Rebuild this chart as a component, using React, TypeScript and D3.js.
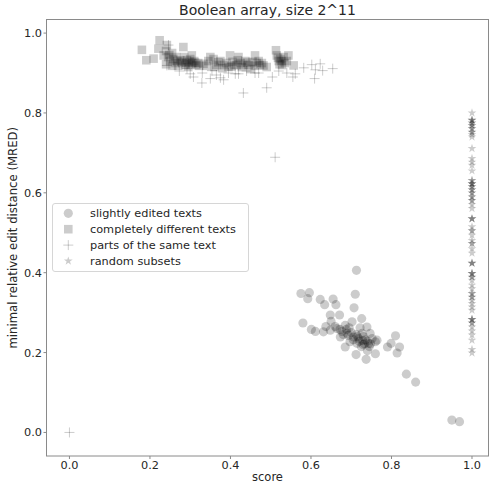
import React from "react";
import * as d3 from "d3";

const W = 489;
const H = 485;

const xTicks = [0, 0.2, 0.4, 0.6, 0.8, 1.0];
const yTicks = [0, 0.2, 0.4, 0.6, 0.8, 1.0];

const slightlyEdited: [number, number][] = [
  [0.713, 0.406], [0.575, 0.348], [0.596, 0.350], [0.592, 0.335], [0.623, 0.333], [0.634, 0.320],
  [0.655, 0.334], [0.662, 0.320], [0.710, 0.346], [0.707, 0.312], [0.580, 0.274], [0.648, 0.294],
  [0.671, 0.294], [0.726, 0.285], [0.601, 0.258], [0.611, 0.253], [0.631, 0.252], [0.648, 0.256],
  [0.664, 0.260], [0.677, 0.253], [0.685, 0.268], [0.702, 0.277], [0.739, 0.264], [0.693, 0.243],
  [0.706, 0.239], [0.718, 0.235], [0.727, 0.248], [0.747, 0.248], [0.764, 0.231], [0.760, 0.227],
  [0.729, 0.220], [0.743, 0.223], [0.685, 0.214], [0.673, 0.239], [0.697, 0.227], [0.714, 0.223],
  [0.712, 0.195], [0.737, 0.183], [0.760, 0.197], [0.810, 0.242], [0.799, 0.223], [0.790, 0.214],
  [0.820, 0.214], [0.814, 0.199], [0.837, 0.146], [0.860, 0.126], [0.950, 0.031], [0.969, 0.027],
  [0.720, 0.228], [0.735, 0.232], [0.752, 0.235], [0.725, 0.215], [0.700, 0.250], [0.688, 0.258],
  [0.660, 0.265], [0.715, 0.240], [0.745, 0.215], [0.730, 0.240], [0.680, 0.245], [0.740, 0.205],
  [0.695, 0.262], [0.722, 0.262], [0.650, 0.278], [0.637, 0.265], [0.733, 0.222], [0.740, 0.228],
  [0.705, 0.232], [0.690, 0.248], [0.672, 0.258], [0.728, 0.230], [0.748, 0.222], [0.712, 0.245],
];

const completelyDifferent: [number, number][] = [
  [0.180, 0.958], [0.191, 0.932], [0.209, 0.936], [0.224, 0.982], [0.221, 0.961], [0.242, 0.970],
  [0.283, 0.965], [0.234, 0.944], [0.245, 0.940], [0.250, 0.930], [0.240, 0.922], [0.255, 0.918],
  [0.275, 0.932], [0.290, 0.925], [0.298, 0.928], [0.305, 0.925], [0.315, 0.920], [0.295, 0.915],
  [0.304, 0.944], [0.310, 0.930], [0.320, 0.925], [0.350, 0.940], [0.358, 0.935], [0.333, 0.923],
  [0.370, 0.927], [0.399, 0.944], [0.385, 0.920], [0.402, 0.916], [0.415, 0.920], [0.418, 0.932],
  [0.420, 0.940], [0.437, 0.930], [0.461, 0.944], [0.465, 0.925], [0.473, 0.920], [0.445, 0.920],
  [0.428, 0.915], [0.482, 0.919], [0.513, 0.957], [0.515, 0.944], [0.520, 0.930], [0.528, 0.920],
  [0.524, 0.935], [0.544, 0.944], [0.557, 0.919], [0.535, 0.925], [0.262, 0.925], [0.270, 0.918],
  [0.340, 0.918], [0.360, 0.915], [0.380, 0.912], [0.450, 0.910], [0.490, 0.915], [0.285, 0.940],
  [0.300, 0.935], [0.258, 0.935], [0.268, 0.930], [0.280, 0.925], [0.292, 0.932], [0.302, 0.922],
  [0.312, 0.926], [0.322, 0.918], [0.288, 0.920], [0.278, 0.928], [0.248, 0.945], [0.265, 0.940],
  [0.345, 0.930], [0.365, 0.920], [0.375, 0.930], [0.390, 0.925], [0.405, 0.928], [0.410, 0.920],
  [0.425, 0.925], [0.432, 0.920], [0.442, 0.926], [0.455, 0.928], [0.460, 0.918], [0.470, 0.930],
  [0.478, 0.925], [0.395, 0.915], [0.518, 0.938], [0.527, 0.930], [0.532, 0.940], [0.522, 0.922],
  [0.540, 0.930], [0.240, 0.955], [0.255, 0.950],
];

const partsOfSame: [number, number][] = [
  [0.300, 0.898], [0.308, 0.890], [0.329, 0.875], [0.350, 0.886], [0.375, 0.888], [0.383, 0.883],
  [0.412, 0.898], [0.242, 0.919], [0.354, 0.906], [0.246, 0.970], [0.292, 0.911], [0.420, 0.898],
  [0.432, 0.850], [0.461, 0.900], [0.490, 0.863], [0.504, 0.890], [0.561, 0.898], [0.555, 0.890],
  [0.582, 0.913], [0.602, 0.921], [0.623, 0.923], [0.611, 0.908], [0.629, 0.906], [0.609, 0.886],
  [0.654, 0.911], [0.440, 0.905], [0.470, 0.900], [0.520, 0.905], [0.540, 0.900], [0.395, 0.900],
  [0.511, 0.689], [0.0, 0.0], [0.273, 0.905], [0.330, 0.900], [0.365, 0.895],
];

const randomSubsetsX = 1.0;
const randomSubsetsY: number[] = [
  0.800, 0.782, 0.782, 0.782, 0.775, 0.775, 0.769, 0.769, 0.761, 0.761, 0.752, 0.752, 0.746, 0.740,
  0.711, 0.686, 0.677, 0.669, 0.655, 0.631, 0.631, 0.623, 0.623, 0.623, 0.616, 0.616, 0.608, 0.608,
  0.600, 0.600, 0.590, 0.590, 0.581, 0.581, 0.571, 0.561, 0.535, 0.535, 0.535, 0.515, 0.505, 0.505,
  0.494, 0.481, 0.473, 0.473, 0.460, 0.449, 0.424, 0.424, 0.424, 0.398, 0.398, 0.398, 0.389, 0.389,
  0.381, 0.369, 0.360, 0.348, 0.348, 0.339, 0.339, 0.331, 0.323, 0.314, 0.306, 0.283, 0.283, 0.283,
  0.274, 0.274, 0.264, 0.254, 0.244, 0.231, 0.208, 0.199,
];

const legendLabels = [
  "slightly edited texts",
  "completely different texts",
  "parts of the same text",
  "random subsets",
];

const FONT = "DejaVu Sans, sans-serif";
const ALPHA = 0.2;

export default function App() {
  const left = 46.5, right = 488.5, top = 19.5, bottom = 456;
  const x = d3.scaleLinear().domain([-0.057, 1.041]).range([left, right]);
  const y = d3.scaleLinear().domain([-0.059, 1.034]).range([bottom, top]);

  const circle = d3.symbol(d3.symbolCircle, 66)();
  const star = d3.symbol(d3.symbolStar, 24)();
  const sq = 8.6;
  const plusHalf = 5;

  const fmt = d3.format(".1f");

  const plusPath = (cx: number, cy: number) =>
    `M${cx - plusHalf},${cy}H${cx + plusHalf}M${cx},${cy - plusHalf}V${cy + plusHalf}`;

  const legendRowY = [213.3, 229.2, 245.1, 261];
  const legendMarkerX = 68.3;

  return (
    <svg width={W} height={H} style={{ position: "absolute", left: 0, top: 0, background: "#fff" }} fontFamily={FONT}>
      <rect x={0} y={0} width={W} height={H} fill="#fff" />
      <rect x={left} y={top} width={right - left} height={bottom - top} fill="none" stroke="#8a8a8a" strokeWidth={1} />

      {xTicks.map((t) => (
        <g key={"xt" + t}>
          <line x1={x(t)} x2={x(t)} y1={bottom} y2={bottom + 3} stroke="#8a8a8a" />
          <text x={x(t)} y={bottom + 13} textAnchor="middle" fontSize={11.3} fill="#262626">
            {fmt(t)}
          </text>
        </g>
      ))}
      {yTicks.map((t) => (
        <g key={"yt" + t}>
          <line x1={left - 3} x2={left} y1={y(t)} y2={y(t)} stroke="#8a8a8a" />
          <text x={left - 4.5} y={y(t) + 4} textAnchor="end" fontSize={11.3} fill="#262626">
            {fmt(t)}
          </text>
        </g>
      ))}

      <text x={(left + right) / 2} y={481} textAnchor="middle" fontSize={11.5} fill="#262626">
        score
      </text>
      <text
        transform={`translate(17,${(top + bottom) / 2}) rotate(-90)`}
        textAnchor="middle"
        fontSize={11.7}
        fill="#262626"
      >
        minimal relative edit distance (MRED)
      </text>
      <text x={(left + right) / 2} y={15} textAnchor="middle" fontSize={14} fill="#262626">
        Boolean array, size 2^11
      </text>

      {completelyDifferent.map(([a, b], i) => (
        <rect key={"s" + i} x={x(a) - sq / 2} y={y(b) - sq / 2} width={sq} height={sq} fill="#000" fillOpacity={ALPHA} />
      ))}
      {slightlyEdited.map(([a, b], i) => (
        <path key={"c" + i} d={circle} transform={`translate(${x(a)},${y(b)})`} fill="#000" fillOpacity={ALPHA} />
      ))}
      {partsOfSame.map(([a, b], i) => (
        <path key={"p" + i} d={plusPath(x(a), y(b))} stroke="#000" strokeOpacity={ALPHA} strokeWidth={1} fill="none" />
      ))}
      {randomSubsetsY.map((b, i) => (
        <path key={"st" + i} d={star} transform={`translate(${x(randomSubsetsX)},${y(b)})`} fill="#000" fillOpacity={ALPHA} />
      ))}

      <rect x={52.5} y={203.5} width={196} height={68} rx={2.5} fill="#fff" fillOpacity={0.8} stroke="#d6d6d6" />
      <path d={circle} transform={`translate(${legendMarkerX},${legendRowY[0]})`} fill="#000" fillOpacity={ALPHA} />
      <rect x={legendMarkerX - sq / 2} y={legendRowY[1] - sq / 2} width={sq} height={sq} fill="#000" fillOpacity={ALPHA} />
      <path d={plusPath(legendMarkerX, legendRowY[2])} stroke="#000" strokeOpacity={ALPHA} fill="none" />
      <path d={star} transform={`translate(${legendMarkerX},${legendRowY[3]})`} fill="#000" fillOpacity={ALPHA} />
      {legendLabels.map((l, i) => (
        <text key={l} x={90} y={legendRowY[i] + 4} fontSize={11.3} fill="#262626">
          {l}
        </text>
      ))}
    </svg>
  );
}
